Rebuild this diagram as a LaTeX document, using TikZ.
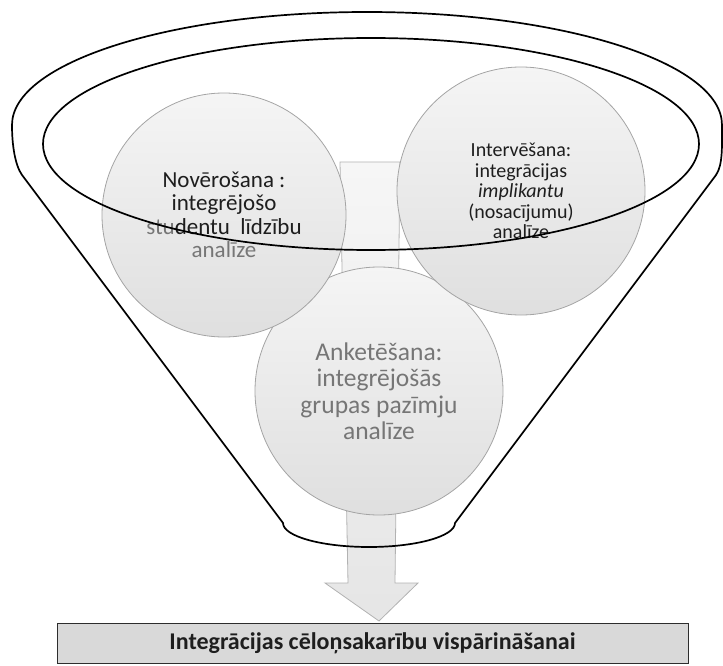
\documentclass[tikz,border=0pt]{standalone}
\usepackage{fontspec}
\setmainfont{Carlito}
\definecolor{ink}{HTML}{1E1E1E}
\definecolor{fade}{HTML}{767676}
\definecolor{rim}{HTML}{A4A4A4}
\begin{document}
\begin{tikzpicture}[x=1pt,y=-1pt,
  bubble/.style={circle, draw=rim, line width=0.8pt, top color=gray!8, bottom color=gray!25,
    align=center, inner sep=0pt, text=ink},
  funnelline/.style={draw=black, line width=1.7pt, line join=round},
  arrowbody/.style={draw=gray!60, line width=0.8pt, top color=gray!7, bottom color=gray!20},
  resultbox/.style={rectangle, draw=gray!35!black, line width=0.9pt, fill=gray!30,
    minimum width=631pt, minimum height=40pt, inner sep=0pt, text=ink,
    font=\bfseries\fontsize{24}{25}\selectfont}]
\useasboundingbox (0,0) rectangle (723,666);

% downward block arrow behind the bubbles
\path[arrowbody] (340,162) -- (400,162) -- (395,583) -- (418,583) -- (379,621)
  -- (325,583) -- (348,583) -- cycle;

% the three bubbles
\node[bubble, minimum size=248pt, text=fade, font=\fontsize{25.5}{26.5}\selectfont]
  (survey) at (379,391) {Anketēšana:\\integrējošās\\grupas pazīmju\\analīze};
\node[bubble, minimum size=244pt, font=\fontsize{23}{23.5}\selectfont]
  (observe) at (224,215) {Novērošana :\\integrējošo\\{\color{fade}stu}dentu\ \ līdzību\\{\color{fade}analīze}};
\node[bubble, minimum size=248pt, font=\fontsize{20}{20.5}\selectfont]
  (interview) at (521,191) {Intervēšana:\\integrācijas\\\textit{implikantu}\\(nosacījumu)\\analīze};

% funnel mouth and body
\draw[funnelline] (371,144) ellipse [x radius=328, y radius=106];
\draw[funnelline] (283,523) -- (22,175) .. controls (15,165) and (12,145) .. (12,125)
  arc[start angle=180, end angle=360, x radius=355, y radius=113]
  .. controls (722,145) and (723,165) .. (716,175) -- (455,523)
  arc[start angle=0, end angle=180, x radius=86, y radius=24] -- cycle;

% result
\node[resultbox] (result) at (372.5,643) {Integrācijas cēloņsakarību vispārināšanai};
\end{tikzpicture}
\end{document}
